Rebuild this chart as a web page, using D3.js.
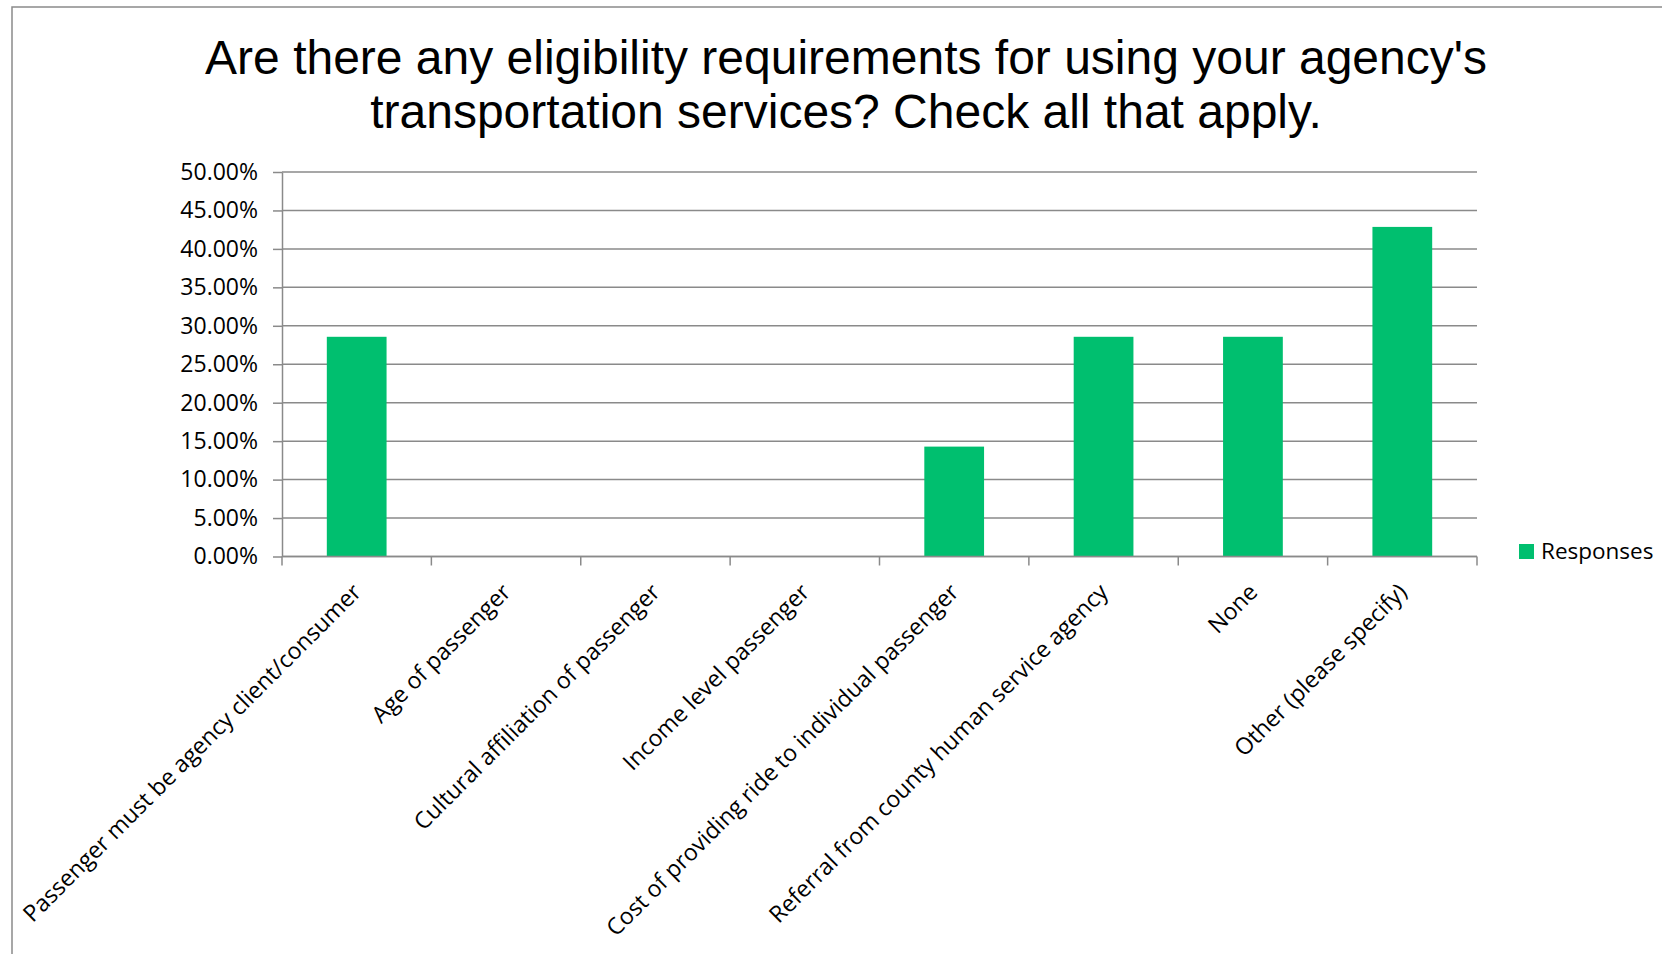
<!DOCTYPE html>
<html>
<head>
<meta charset="utf-8">
<style>
    body { margin: 0; background: #fff; }
    svg { display: block; }
</style>
<script src="https://cdn.jsdelivr.net/npm/d3@7"></script>
</head>
<body>
<svg id="chart" width="1662" height="954"></svg>
<script>
    // chart data
    let titleLines = [
        "Are there any eligibility requirements for using your agency's",
        "transportation services? Check all that apply."
    ]
    let categories = [
        "Passenger must be agency client/consumer",
        "Age of passenger",
        "Cultural affiliation of passenger",
        "Income level passenger",
        "Cost of providing ride to individual passenger",
        "Referral from county human service agency",
        "None",
        "Other (please specify)"
    ]
    let responses = [0.2857, 0, 0, 0, 0.1429, 0.2857, 0.2857, 0.4286]
    let yTicks = [0, 0.05, 0.10, 0.15, 0.20, 0.25, 0.30, 0.35, 0.40, 0.45, 0.50]
    let seriesName = "Responses"

    let svg = d3.select("#chart")
    let green = "#00bf6f"
    let gray = "#8a8a8a"
    let labelFont = "'Open Sans', 'Noto Sans', sans-serif"

    // outer chart border (runs off the right/bottom edge)
    svg.append("rect")
        .attr("x", 12).attr("y", 7)
        .attr("width", 1700).attr("height", 1000)
        .attr("fill", "none")
        .attr("stroke", gray)
        .attr("stroke-width", 1.5)

    // title
    svg.append("text")
        .attr("text-anchor", "middle")
        .attr("font-family", "'Liberation Sans', Arial, sans-serif")
        .attr("font-size", 48)
        .attr("fill", "#000")
        .selectAll("tspan")
        .data(titleLines)
        .enter().append("tspan")
        .attr("x", 846)
        .attr("y", (d, i) => 74 + i * 54)
        .text(d => d)

    let plotLeft = 282, plotRight = 1477, plotTop = 172, plotBottom = 556.5

    let x = d3.scaleBand()
        .domain(categories)
        .range([plotLeft, plotRight])
        .paddingInner(0.6)
        .paddingOuter(0.3)

    let y = d3.scaleLinear()
        .domain([0, 0.5])
        .range([plotBottom, plotTop])

    // gridlines
    svg.append("g")
        .selectAll("line")
        .data(yTicks)
        .enter().append("line")
        .attr("x1", plotLeft).attr("x2", plotRight)
        .attr("y1", d => y(d)).attr("y2", d => y(d))
        .attr("stroke", gray)
        .attr("stroke-width", 1.5)

    // y axis
    let yAxis = svg.append("g")
        .attr("transform", `translate(${plotLeft},0)`)
        .call(d3.axisLeft(y)
            .tickValues(yTicks)
            .tickFormat(d3.format(".2%"))
            .tickSize(9)
            .tickSizeOuter(0)
            .tickPadding(15))
    yAxis.select(".domain").attr("stroke", gray).attr("stroke-width", 1.5)
    yAxis.selectAll(".tick line").attr("stroke", gray).attr("stroke-width", 1.5)
    yAxis.selectAll(".tick text")
        .attr("font-family", labelFont)
        .attr("font-size", 23)
        .attr("fill", "#000")

    // bars
    svg.append("g")
        .selectAll("rect")
        .data(categories)
        .enter().append("rect")
        .attr("x", d => x(d))
        .attr("width", x.bandwidth())
        .attr("y", (d, i) => y(responses[i]))
        .attr("height", (d, i) => y(0) - y(responses[i]))
        .attr("fill", green)

    // x axis line with ticks at category boundaries
    let gap = (x.step() - x.bandwidth()) / 2
    let bounds = categories.map(c => x(c) - gap)
    bounds.push(x(categories[categories.length - 1]) + x.bandwidth() + gap)

    let xAxis = svg.append("g")
    xAxis.append("line")
        .attr("x1", plotLeft).attr("x2", plotRight)
        .attr("y1", y(0)).attr("y2", y(0))
        .attr("stroke", gray)
        .attr("stroke-width", 1.5)
    xAxis.selectAll(".tk")
        .data(bounds)
        .enter().append("line")
        .attr("class", "tk")
        .attr("x1", d => d).attr("x2", d => d)
        .attr("y1", y(0)).attr("y2", y(0) + 9)
        .attr("stroke", gray)
        .attr("stroke-width", 1.5)

    // rotated category labels
    xAxis.selectAll("text")
        .data(categories)
        .enter().append("text")
        .attr("text-anchor", "end")
        .attr("font-family", labelFont)
        .attr("font-size", 23.1)
        .attr("fill", "#000")
        .attr("transform", d => `translate(${x(d) + x.bandwidth() / 2 + 6},${y(0) + 37}) rotate(-45)`)
        .text(d => d)

    // legend
    let legend = svg.append("g")
    legend.append("rect")
        .attr("x", 1519).attr("y", 544)
        .attr("width", 15).attr("height", 15)
        .attr("fill", green)
    legend.append("text")
        .attr("x", 1541).attr("y", 559)
        .attr("font-family", labelFont)
        .attr("font-size", 22.5)
        .attr("fill", "#000")
        .text(seriesName)
</script>
</body>
</html>
